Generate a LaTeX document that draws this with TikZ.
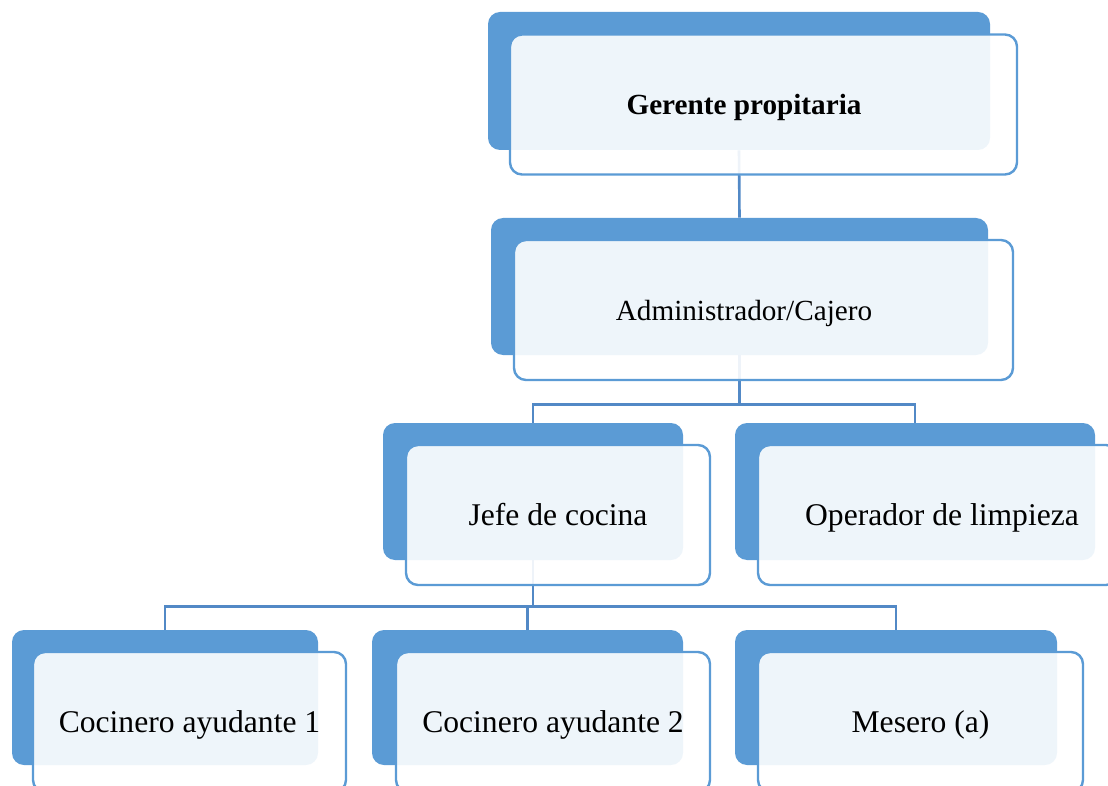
\documentclass[tikz,border=0pt]{standalone}
\usepackage{fontspec}
\setmainfont{Liberation Serif}
\usepackage{tikz}
\usetikzlibrary{positioning,calc}
\definecolor{cardblue}{HTML}{5B9BD5}
\definecolor{linkblue}{HTML}{5289C6}
\tikzset{
  backcard/.style={rectangle,rounded corners=6pt,fill=cardblue,draw=none,
                   minimum width=#1,minimum height=68.5pt,inner sep=0pt},
  frontcard/.style={rectangle,rounded corners=6pt,draw=cardblue,line width=1.2pt,
                    fill=white,fill opacity=0.9,text opacity=1,minimum width=#1,
                    minimum height=70pt,inner sep=0pt,align=center,
                    text height=10.5pt,text depth=0pt,
                    font=\fontsize{15.8}{19}\selectfont},
  toptext/.style={font=\fontsize{14.6}{17}\selectfont},
  link/.style={draw=linkblue,line width=1.3pt},
}
\begin{document}
\begin{tikzpicture}[x=0.5pt,y=-0.5pt]
        \clip (0,0) rectangle (1108,786);
        % back cards
        \node[backcard=251pt,minimum height=69pt] (gerente) at (739,81) {};
        \node[backcard=248.5pt] (admin) at (739.5,286.5) {};
        \node[backcard=150pt] (jefe) at (533,491.5) {};
        \node[backcard=180pt] (limpieza) at (915,491.5) {};
        \node[backcard=153pt,minimum height=67.5pt] (coc1) at (165,697.5) {};
        \node[backcard=155.5pt,minimum height=67.5pt] (coc2) at (527.5,697.5) {};
        \node[backcard=161pt,minimum height=67.5pt] (mesero) at (896,697.5) {};
        % connectors
        \coordinate (busA) at ([yshift=-24.5pt]admin.south);
        \coordinate (busB) at ([yshift=-23pt]jefe.south);
        \draw[link] (gerente.south) -- (admin.north);
        \draw[link] (admin.south) -- (busA) -| (jefe.north);
        \draw[link] (busA) -| (limpieza.north);
        \draw[link] (jefe.south) -- (busB) -| (coc1.north);
        \draw[link] (busB) -| (coc2.north);
        \draw[link] (busB) -| (mesero.north);
        % front cards with the labels
        \node[frontcard=253.5pt,toptext] (gerenteF) at (763.5,104.5) {\hspace*{-19.5pt}\textbf{Gerente propitaria}};
        \node[frontcard=249.5pt,toptext] (adminF) at (763.5,310) {\hspace*{-19.5pt}Administrador/Cajero};
        \node[frontcard=152pt] (jefeF) at (558,515) {Jefe de cocina};
        \node[frontcard=180pt] (limpiezaF) at (938,515) {\hspace*{4pt}Operador de limpieza};
        \node[frontcard=156.5pt] (coc1F) at (189.5,722) {Cocinero ayudante 1};
        \node[frontcard=157pt] (coc2F) at (553,722) {Cocinero ayudante 2};
        \node[frontcard=162.5pt] (meseroF) at (920.5,722) {Mesero (a)};
      \end{tikzpicture}
\end{document}
